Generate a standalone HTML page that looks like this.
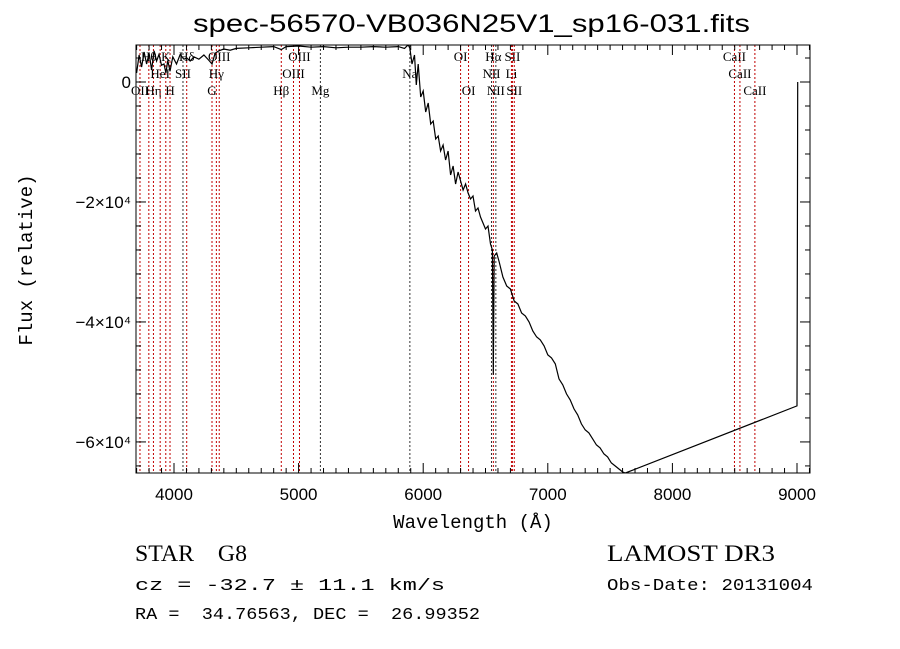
<!DOCTYPE html>
<html><head><meta charset="utf-8"><style>
body{margin:0;background:#fff;}
svg{display:block;font-family:"Liberation Sans",sans-serif;}
text{white-space:pre;}
</style></head><body>
<svg id="chart" width="900" height="649">
<text x="193" y="32" font-size="25" textLength="557" lengthAdjust="spacingAndGlyphs">spec-56570-VB036N25V1_sp16-031.fits</text>
<text x="473" y="528" font-size="19" text-anchor="middle" font-family="Liberation Mono, monospace">Wavelength (Å)</text>
<text x="32" y="260" font-size="19" text-anchor="middle" font-family="Liberation Mono, monospace" transform="rotate(-90 32 260)">Flux (relative)</text>
<text x="135" y="561" font-size="23" font-family="Liberation Serif, serif" xml:space="preserve" textLength="112" lengthAdjust="spacingAndGlyphs">STAR    G8</text>
<text x="135" y="590" font-size="17" font-family="Liberation Mono, monospace" xml:space="preserve" textLength="310" lengthAdjust="spacingAndGlyphs">cz = -32.7 ± 11.1 km/s</text>
<text x="135" y="619" font-size="17" font-family="Liberation Mono, monospace" xml:space="preserve" textLength="345" lengthAdjust="spacingAndGlyphs">RA =  34.76563, DEC =  26.99352</text>
<text x="607" y="561" font-size="23" font-family="Liberation Serif, serif" textLength="168" lengthAdjust="spacingAndGlyphs">LAMOST DR3</text>
<text x="607" y="590" font-size="17" font-family="Liberation Mono, monospace" textLength="206" lengthAdjust="spacingAndGlyphs">Obs-Date: 20131004</text>
<g id="plot"></g>
</svg>
<script>
const waves=[3700,3720,3740,3760,3780,3800,3820,3840,3860,3880,
3900,3920,3935,3950,3968,3990,4020,4050,4080,4102,
4130,4160,4200,4240,4280,4305,4330,4360,4400,4450,
4500,4600,4700,4800,4861,4900,5000,5100,5200,5300,
5400,5500,5600,5700,5800,5850,5880,5893,5910,5930,
5945,5960,5980,6000,6020,6040,6060,6080,6100,6120,
6140,6160,6180,6200,6220,6240,6260,6280,6300,6320,
6340,6360,6380,6400,6420,6440,6460,6480,6500,6520,
6540,6555,6563,6570,6590,6610,6640,6670,6700,6730,
6760,6790,6820,6850,6880,6910,6940,6970,7000,7030,
7060,7090,7120,7150,7180,7210,7240,7270,7300,7330,
7360,7390,7420,7450,7480,7510,7540,7570,7600,7620,
9000,9003,9006];
const flux=[1500,4500,2500,5000,3000,4800,2000,5200,3500,4600,
2800,3000,1500,3600,1800,4200,3000,4600,3800,4000,
3500,4200,3800,4500,3600,3000,4800,5200,5500,5300,
5600,5700,5800,5900,5400,5900,6000,5800,5900,5700,
5800,5800,5900,5800,5900,5600,6200,5600,3000,4500,
-500,3000,-2500,-1500,-5000,-3500,-7000,-6500,-9500,-9000,
-11500,-10500,-13000,-11500,-15500,-14000,-17000,-15000,-16500,-18000,
-17000,-18500,-19500,-19000,-21500,-21000,-22500,-23500,-24500,-24000,
-27000,-28000,-48800,-29000,-28500,-30000,-32500,-34000,-34500,-36500,
-37000,-38500,-39000,-40000,-41500,-42500,-43000,-44000,-45500,-46000,
-47000,-49500,-50500,-52000,-53000,-54500,-55500,-57000,-58000,-58500,
-59500,-60500,-61000,-62000,-62500,-63500,-64000,-64500,-65000,-65200,
-54000,-25000,0];
const lineWaves=[3727,3798,3835,3889,3934,3968,4072,4102,4305,4340,4363,4861,4959,5007,5175,5893,6300,6364,6548,6563,6583,6708,6716,6731,8498,8542,8662];
const lineLabels=["OII","Hθ","Hη","HeI","K","H","SII","Hδ","G","Hγ","OIII","Hβ","OIII","OIII","Mg","Na","OI","OI","NII","Hα","NII","Li","SII","SII","CaII","CaII","CaII"];
const lineRows=[2,0,2,1,0,2,1,0,2,1,0,2,1,0,2,1,0,2,1,0,2,1,0,2,0,1,2];
const lineRed=[1,1,1,1,1,1,0,1,1,1,1,1,1,1,0,0,1,1,0,1,0,1,1,1,1,1,1];
const xTicks=[4000,5000,6000,7000,8000,9000];
const yTicks=[0,-20000,-40000,-60000];
const yTickLabels=["0","−2×10⁴","−4×10⁴","−6×10⁴"];

const L=136,R=810,T=45,B=473;
const X=w=>174+(w-4000)*0.1246;
const Y=f=>82-f/166.7;
const NS="http://www.w3.org/2000/svg";
const g=document.getElementById('plot');
function mk(t,a){const e=document.createElementNS(NS,t);for(const k in a)e.setAttribute(k,a[k]);g.appendChild(e);return e;}
const defs=mk('defs',{});
const cp=document.createElementNS(NS,'clipPath');cp.setAttribute('id','clip');
const r0=document.createElementNS(NS,'rect');r0.setAttribute('x',L);r0.setAttribute('y',T);r0.setAttribute('width',R-L);r0.setAttribute('height',B-T);cp.appendChild(r0);
defs.appendChild(cp);
const rowY=[61,78,95];
lineWaves.forEach((w,i)=>{
 const ln=mk('line',{x1:X(w),x2:X(w),y1:T,y2:B,stroke:lineRed[i]?'#c00000':'#333','stroke-width':1,'stroke-dasharray':'2,2'});
 
 
 const t=mk('text',{x:X(w),y:rowY[lineRows[i]],'font-size':13,'text-anchor':'middle','font-family':'Liberation Serif, serif'});
 t.textContent=lineLabels[i];
 
 
});
const pts=waves.map((w,i)=>X(w).toFixed(1)+','+Y(flux[i]).toFixed(1)).join(' ');
const pl=mk('polyline',{points:pts,fill:'none',stroke:'#000','stroke-width':1.2,'clip-path':'url(#clip)'});


const fr=mk('rect',{x:L,y:T,width:R-L,height:B-T,fill:'none',stroke:'#000','stroke-width':1});


for(let w=3700;w<=9100;w+=100){const big=w%1000===0;const x=X(w);
 mk('line',{x1:x,x2:x,y1:B,y2:B-(big?10:5),stroke:'#000'});mk('line',{x1:x,x2:x,y1:T,y2:T+(big?10:5),stroke:'#000'});}
xTicks.forEach(w=>{const t=mk('text',{x:X(w),y:500,'font-size':17,'text-anchor':'middle'});t.textContent=w;
 
 });
for(let f=4000;f>=-64000;f-=4000){const big=f%20000===0;const y=Y(f);
 mk('line',{x1:L,x2:L+(big?10:5),y1:y,y2:y,stroke:'#000'});mk('line',{x1:R,x2:R-(big?10:5),y1:y,y2:y,stroke:'#000'});}
yTicks.forEach((f,i)=>{const t=mk('text',{x:131,y:Y(f)+6,'font-size':17,'text-anchor':'end'});t.textContent=yTickLabels[i];
 
 });
</script>
</body></html>
